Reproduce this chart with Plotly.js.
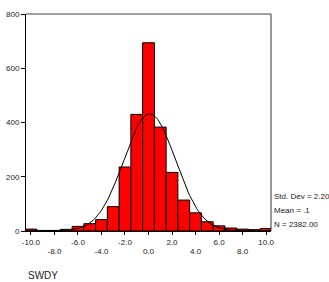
<!DOCTYPE html>
<html>
<head>
<meta charset="utf-8">
<script src="https://cdn.plot.ly/plotly-3.0.1.min.js"></script>
<style>html,body{margin:0;padding:0;background:#fff;}#chart{width:329px;height:282px;}</style>
</head>
<body>
<div id="chart"></div>
<script>
// Bin midpoints (bin width 1.0)
const binMids = [-10,-9,-8,-7,-6,-5,-4,-3,-2,-1,0,1,2,3,4,5,6,7,8,9,10];
// Frequencies
const counts = [7,2,2,6,17,27,42,90,236,430,694,383,216,114,67,34,19,11,7,5,9];
// Summary statistics shown on the chart
const statStdDev = 2.20;
const statMean = 0.1;
const statN = 2382;
const statLabels = ["Std. Dev = 2.20", "Mean = .1", "N = 2382.00"];
// Axis ticks
const xTickRow1 = [-10,-6,-2,2,6,10];
const xTickRow2 = [-8,-4,0,4,8];
const yTicks = [0,200,400,600,800];
const varName = "SWDY";

// Fitted normal curve (expected frequency per unit-width bin)
const curveX = [];
const curveY = [];
for (let i = 0; i <= 210; i++) {
  const x = -10.5 + i * 0.1;
  curveX.push(x);
  const z = (x - statMean) / statStdDev;
  curveY.push(statN * 1.0 / (statStdDev * Math.sqrt(2 * Math.PI)) * Math.exp(-0.5 * z * z));
}

const fontFam = "Liberation Sans, Arial, sans-serif";
const allTicks = xTickRow1.concat(xTickRow2).sort((a,b)=>a-b);

const traces = [
  {
    type: 'bar', x: binMids, y: counts, width: 1,
    marker: {color: '#ff0000', line: {color: '#000000', width: 1}},
    hoverinfo: 'skip', xaxis: 'x', yaxis: 'y'
  },
  {
    type: 'scatter', mode: 'lines', x: curveX, y: curveY,
    line: {color: '#000000', width: 1}, hoverinfo: 'skip', xaxis: 'x', yaxis: 'y'
  },
  {
    type: 'scatter', mode: 'markers', x: [0], y: [0], marker: {opacity: 0},
    hoverinfo: 'skip', xaxis: 'x2', yaxis: 'y'
  }
];

const xr = [-10.42, 10.42];
const layout = {
  width: 329, height: 282,
  margin: {l: 26, r: 58, t: 14, b: 51},
  paper_bgcolor: '#ffffff', plot_bgcolor: '#ffffff',
  showlegend: false,
  font: {family: fontFam, size: 8, color: '#222222'},
  xaxis: {
    range: xr, tickmode: 'array', tickvals: allTicks,
    ticktext: allTicks.map(v => xTickRow1.indexOf(v) >= 0 ? v.toFixed(1) : ''),
    ticks: 'outside', ticklen: 3, tickcolor: '#000', tickwidth: 1,
    showline: true, linecolor: '#000', linewidth: 1, showgrid: false, zeroline: false,
    tickfont: {family: fontFam, size: 8, color: '#222'}
  },
  xaxis2: {
    range: xr, overlaying: 'x', anchor: 'y', side: 'bottom',
    tickmode: 'array', tickvals: xTickRow2, ticktext: xTickRow2.map(v => v.toFixed(1)),
    ticks: '', showline: false, showgrid: false, zeroline: false,
    ticklabelstandoff: 14,
    tickfont: {family: fontFam, size: 8, color: '#222'}
  },
  yaxis: {
    range: [0, 800], tickmode: 'array', tickvals: yTicks,
    ticks: 'outside', ticklen: 4, tickcolor: '#000', tickwidth: 1,
    showline: true, linecolor: '#000', linewidth: 1, showgrid: false, zeroline: false,
    tickfont: {family: fontFam, size: 8, color: '#222'}
  },
  shapes: [
    {type: 'line', xref: 'paper', yref: 'paper', x0: 0, x1: 1, y0: 1, y1: 1, line: {color: '#808080', width: 1.5}},
    {type: 'line', xref: 'paper', yref: 'paper', x0: 1, x1: 1, y0: 0, y1: 1, line: {color: '#333333', width: 1}}
  ],
  annotations: statLabels.map((t, i) => ({
    text: t, xref: 'paper', yref: 'paper', x: 1.006, y: 0.16 - i * 0.064,
    xanchor: 'left', yanchor: 'middle', showarrow: false,
    font: {family: fontFam, size: 8, color: '#222'}
  })).concat([{
    text: varName, xref: 'paper', yref: 'paper', x: 0, y: -0.205,
    xanchor: 'left', yanchor: 'middle', showarrow: false,
    font: {family: fontFam, size: 10, color: '#222'}
  }])
};

Plotly.newPlot('chart', traces, layout, {staticPlot: true, displayModeBar: false});
</script>
</body>
</html>
